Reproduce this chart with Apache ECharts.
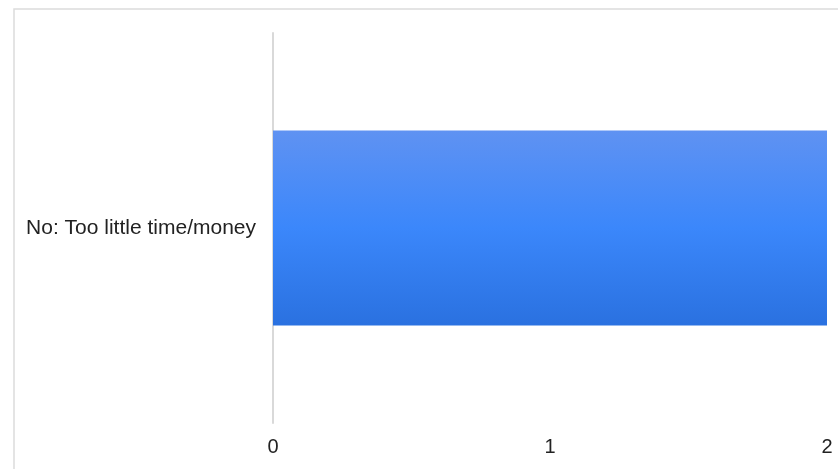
<!DOCTYPE html>
<html><head><meta charset="utf-8">
<script src="https://cdn.jsdelivr.net/npm/echarts@6/dist/echarts.min.js"></script>
<style>html,body{margin:0;padding:0;background:#fff}#c{width:838px;height:469px}</style>
</head><body><div id="c"></div>
<script>
const categories = ["No: Too little time/money"];
const values = [2];
const xTicks = [0, 1, 2];

const chart = echarts.init(document.getElementById('c'), null, {renderer:'canvas'});
chart.setOption({
  animation: false,
  graphic: [{
    type: 'rect', left: 11.5, top: 6.5, silent: true,
    shape: { width: 900, height: 600 },
    style: { fill: 'none', stroke: '#dcdcdc', lineWidth: 1.5 }
  }],
  grid: { left: 273, right: 11, top: 33, bottom: 46, containLabel: false },
  xAxis: {
    type: 'value', min: xTicks[0], max: xTicks[xTicks.length-1], interval: 1,
    axisLine: { show: false }, axisTick: { show: false }, splitLine: { show: false },
    axisLabel: { color: '#222', fontFamily: 'Liberation Sans, Arial', fontSize: 20, margin: 14 }
  },
  yAxis: {
    type: 'category', data: categories,
    axisLine: { show: true, lineStyle: { color: '#d9d9d9', width: 2 } },
    axisTick: { show: false },
    axisLabel: { color: '#222', fontFamily: 'Liberation Sans, Arial', fontSize: 21, margin: 17 }
  },
  series: [{
    type: 'bar', data: values, barWidth: '50%',
    itemStyle: {
      color: new echarts.graphic.LinearGradient(0, 0, 0, 1, [
        { offset: 0, color: '#5f92f2' },
        { offset: 0.5, color: '#3b87fb' },
        { offset: 1, color: '#2a71e0' }
      ])
    }
  }]
});
</script></body></html>
